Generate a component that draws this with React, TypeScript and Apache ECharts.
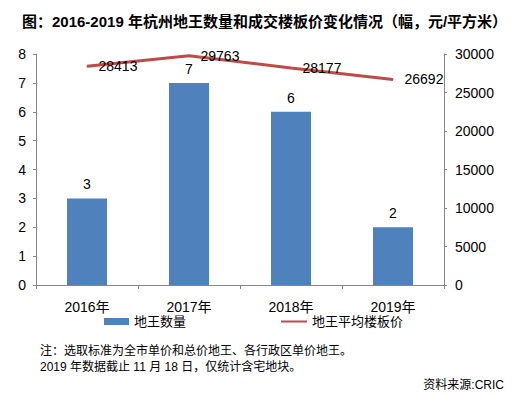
import React, { useEffect, useRef } from "react";
import * as echarts from "echarts";

const categories = ["2016年", "2017年", "2018年", "2019年"];
const landKingCount = [3, 7, 6, 2];
const avgFloorPrice = [28413, 29763, 28177, 26692];
const leftTicks = { min: 0, max: 8, interval: 1 };
const rightTicks = { min: 0, max: 30000, interval: 5000 };
const titleText = "图：2016-2019 年杭州地王数量和成交楼板价变化情况（幅，元/平方米）";
const noteLines = [
  "注：选取标准为全市单价和总价地王、各行政区单价地王。",
  "2019 年数据截止 11 月 18 日，仅统计含宅地块。",
];
const sourceText = "资料来源:CRIC";

const FONT = "'Liberation Sans', Arial, 'Noto Sans CJK SC', sans-serif";

export default function App() {
  const ref = useRef<HTMLDivElement>(null);
  useEffect(() => {
    document.body.style.margin = "0";
    if (!ref.current) return;
    const chart = echarts.init(ref.current, undefined, { renderer: "svg" });
    const axisLine = { show: true, lineStyle: { color: "#868686", width: 1 } };
    chart.setOption({
      animation: false,
      backgroundColor: "#ffffff",
      textStyle: { fontFamily: FONT, color: "#000" },
      title: {
        text: titleText,
        left: 22,
        top: 14,
        padding: 0,
        textStyle: { fontSize: 15, fontWeight: "bold", color: "#000", fontFamily: FONT },
      },
      grid: { left: 36, right: 78, top: 54, bottom: 110, containLabel: false },
      legend: [
        {
          data: [{ name: "地王数量", icon: "rect" }],
          left: 104,
          top: 315,
          padding: 0,
          itemWidth: 25,
          itemHeight: 7,
          textStyle: { fontSize: 13, color: "#000", fontFamily: FONT },
        },
        {
          data: [{ name: "地王平均楼板价", icon: "rect" }],
          left: 281,
          top: 315,
          padding: 0,
          itemWidth: 26,
          itemHeight: 2,
          textStyle: { fontSize: 13, color: "#000", fontFamily: FONT },
        },
      ],
      xAxis: {
        type: "category",
        data: categories,
        boundaryGap: true,
        axisLine,
        axisTick: { show: true, length: 4, lineStyle: { color: "#868686" } },
        axisLabel: { fontSize: 14, color: "#000", margin: 15, fontFamily: FONT },
      },
      yAxis: [
        {
          type: "value",
          ...leftTicks,
          axisLine,
          axisTick: { show: true, length: 3, lineStyle: { color: "#868686" } },
          splitLine: { show: false },
          axisLabel: { fontSize: 14, color: "#000", margin: 10, fontFamily: FONT },
        },
        {
          type: "value",
          ...rightTicks,
          axisLine,
          axisTick: { show: true, length: 3, lineStyle: { color: "#868686" } },
          splitLine: { show: false },
          axisLabel: {
            fontSize: 14,
            color: "#000",
            margin: 11,
            fontFamily: FONT,
            formatter: (v: number) => String(v),
          },
        },
      ],
      series: [
        {
          name: "地王数量",
          type: "bar",
          data: landKingCount,
          barWidth: 40,
          itemStyle: { color: "#4F81BD" },
          label: {
            show: true,
            position: "top",
            distance: 7,
            fontSize: 14,
            color: "#000",
            fontFamily: FONT,
          },
        },
        {
          name: "地王平均楼板价",
          type: "line",
          yAxisIndex: 1,
          data: avgFloorPrice,
          symbol: "circle",
          symbolSize: 1,
          showSymbol: true,
          lineStyle: { color: "#BE4B48", width: 3 },
          itemStyle: { color: "#BE4B48" },
          label: {
            show: true,
            position: "right",
            distance: 11,
            fontSize: 14,
            color: "#000",
            fontFamily: FONT,
          },
          z: 3,
        },
      ],
      graphic: [
        {
          type: "text",
          left: 40,
          top: 345,
          style: { text: noteLines[0], fontSize: 12, fill: "#000", fontFamily: FONT },
        },
        {
          type: "text",
          left: 40,
          top: 361,
          style: { text: noteLines[1], fontSize: 12, fill: "#000", fontFamily: FONT },
        },
        {
          type: "text",
          right: 18,
          top: 379,
          style: { text: sourceText, fontSize: 12, fill: "#000", fontFamily: FONT },
        },
      ],
    });
    return () => chart.dispose();
  }, []);
  return <div ref={ref} style={{ width: 522, height: 395 }} />;
}
